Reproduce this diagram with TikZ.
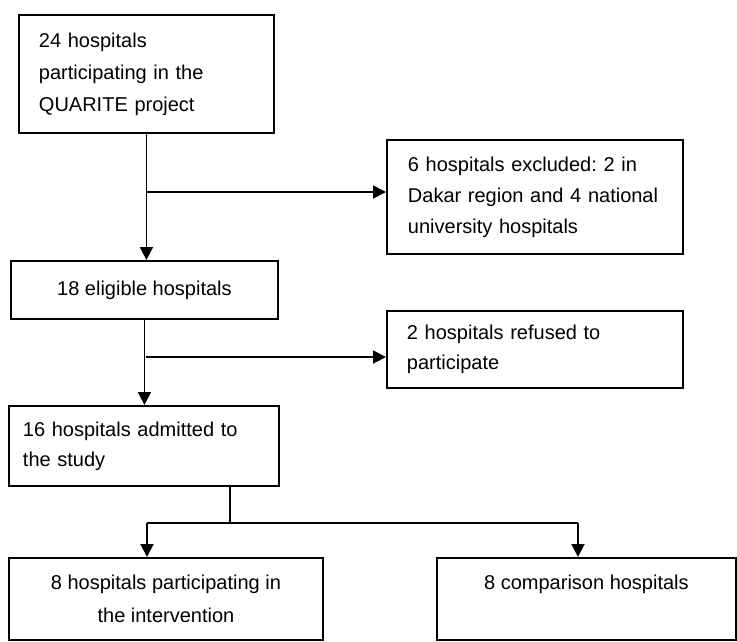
\documentclass[tikz,border=0pt]{standalone}
\usepackage{fontspec}
\setmainfont{Liberation Sans}
\frenchspacing
\usetikzlibrary{positioning, arrows.meta}
\tikzset{
    >={Triangle[length=13pt,width=13pt]}, % Filled arrowheads
    box/.style={draw, rectangle, anchor=north west, inner ysep=0pt,
        font=\fontsize{20}{32}\selectfont}, % Boxes of the chart
    lbox/.style={box, align=left}, % Left aligned text
    cbox/.style={box, align=center}, % Centred text
}

\begin{document}
\begin{tikzpicture}[x=1pt, y=-1pt, line width=1.9pt]
    \useasboundingbox (0,0) rectangle (737,641);

    \node[lbox, inner xsep=20pt, text width=215pt, minimum width=255pt, minimum height=118pt] (b1) at (18,14)
        {24 hospitals\\participating in the\\QUARITE project};
    \node[lbox, inner xsep=21pt, text width=254pt, minimum width=296pt, minimum height=114pt,
        font=\fontsize{20}{31}\selectfont] (b2) at (386,139)
        {6 hospitals excluded: 2 in\\Dakar region and 4 national\\university hospitals};
    \node[cbox, minimum width=267pt, minimum height=58pt] (b3) at (10,260) {18 eligible hospitals};
    \node[lbox, inner xsep=20pt, text width=256pt, minimum width=296pt, minimum height=77pt,
        font=\fontsize{20}{30}\selectfont] (b4) at (386,310)
        {2 hospitals refused to\\participate};
    \node[lbox, inner xsep=14pt, text width=242pt, minimum width=270pt, minimum height=80pt,
        font=\fontsize{20}{30}\selectfont] (b5) at (8,405)
        {16 hospitals admitted to\\the study};
    \node[cbox, minimum width=314pt, minimum height=82pt, font=\fontsize{20}{33}\selectfont] (b6) at (8,557)
        {8 hospitals participating in\\the intervention};
    \node[cbox, minimum width=299pt, minimum height=82pt, font=\fontsize{20}{33}\selectfont] (b7) at (436,557)
        {8 comparison hospitals\\\mbox{}};

    % branch points
    \coordinate (j1) at (146,192);
    \coordinate (j2) at (146,357);
    \coordinate (j3) at (230,523);
    \coordinate (j4) at (147,523);
    \coordinate (j5) at (578,523);

    \draw[->] (b1.south) -- (b1.south |- b3.north);
    \draw[->] (j1) -- (j1 -| b2.west);
    \draw[->] (b3.south) -- (b3.south |- b5.north);
    \draw[->] (j2) -- (j2 -| b4.west);

    \draw[line width=1.4pt] (j3 |- b5.south) -- (j3);
    \draw[line width=1.6pt] (j4) -- (j5);
    \draw[->] (j4) -- (j4 |- b6.north);
    \draw[->] (j5) -- (j5 |- b7.north);
\end{tikzpicture}
\end{document}
